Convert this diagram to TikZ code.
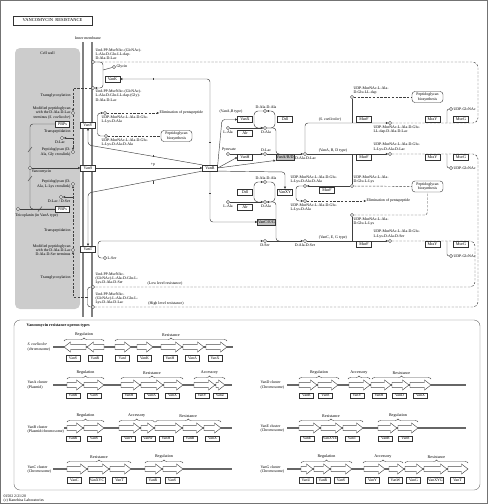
\documentclass[tikz,border=0pt]{standalone}
\usepackage{fontspec}
\setmainfont{Liberation Serif}
\usetikzlibrary{arrows.meta,decorations.pathreplacing}
\pgfdeclarelayer{bgA}
\pgfdeclarelayer{bgB}
\pgfsetlayers{bgA,bgB,main}
\newcommand\kfs{\fontsize{3.9}{4.2}\selectfont}
\newcommand\kfe{\fontsize{4.1}{4.4}\selectfont}
\definecolor{cellgray}{RGB}{204,204,204}
\definecolor{enzgray}{RGB}{196,196,196}
\newcommand\garR[3]{\draw[garrow] (#1,#3-2.6) -- (#2-6.5,#3-2.6) -- (#2-6.5,#3-5) -- (#2,#3) -- (#2-6.5,#3+5) -- (#2-6.5,#3+2.6) -- (#1,#3+2.6) -- cycle;}
\newcommand\garL[3]{\draw[garrow] (#2,#3-2.6) -- (#1+6.5,#3-2.6) -- (#1+6.5,#3-5) -- (#1,#3) -- (#1+6.5,#3+5) -- (#1+6.5,#3+2.6) -- (#2,#3+2.6) -- cycle;}
\newcommand\glab[3]{\node[glab] (g-#3-#1-#2) at (#1,#2) {#3};}
\newcommand\gbrace[4]{\draw[brc] (#1,#3) -- (#2,#3); \node[brl] (b-#4-#1-#3) at ({(#1+#2)/2},#3-3.8) {#4};}
\newcommand\tickv[2]{\draw[rxn] (#1,#2-1.2) -- (#1,#2+1.2);}
\newcommand\tickh[2]{\draw[rxn] (#1-1.2,#2) -- (#1+1.2,#2);}
\begin{document}
\begin{tikzpicture}[x=1pt,y=-1pt,line width=0.4pt,
  cpd/.style={circle,draw=black!80,fill=white,inner sep=0pt,minimum size=3.3pt,line width=0.45pt},
  enz/.style={draw=black!80,fill=white,inner sep=0.5pt,minimum width=15pt,minimum height=5.8pt,font=\kfe},
  enzg/.style={enz,fill=enzgray,minimum width=16pt},
  lbl/.style={font=\kfs,inner sep=0.3pt,align=left},
  lblr/.style={font=\kfs,inner sep=0.3pt,align=right},
  rxn/.style={draw=black!75,line width=0.45pt},
  arr/.style={rxn,-{Triangle[length=2.2pt,width=2.2pt]}},
  dsh/.style={rxn,dash pattern=on 2.4pt off 1.4pt},
  dsharr/.style={dsh,-{Triangle[length=2.2pt,width=2.2pt]}},
  memb/.style={draw=black!50,line width=1.2pt},
  pgbox/.style={draw=black!80,fill=white,rounded corners=3pt,font=\kfs,align=center,minimum width=31pt,minimum height=11pt,inner sep=0.5pt},
  garrow/.style={draw=black!70,fill=white,line width=0.45pt},
  gline/.style={draw=black!60,line width=1.1pt},
  glab/.style={draw=black!80,fill=white,font=\kfs,inner sep=0.6pt,minimum width=14pt,minimum height=5.6pt},
  brc/.style={draw=black!70,line width=0.4pt,decorate,decoration={brace,amplitude=3pt}},
  brl/.style={font=\kfe,inner sep=0.5pt,anchor=south}]
\useasboundingbox (0,0) rectangle (488,504);
\draw[black!55] (0.5,0.5) rectangle (487.5,503.5);

% ---------- background: cell wall, membrane
\begin{pgfonlayer}{bgA}
\fill[cellgray,rounded corners=5pt] (15,48) rectangle (80,309);
\draw[memb] (83,42) -- (83,317);
\draw[memb] (92,42) -- (92,317);
\end{pgfonlayer}

\node[draw=black!80,fill=white,minimum width=79pt,minimum height=9pt,inner sep=0pt,font=\fontsize{4.5}{5}\selectfont] (title) at (52.5,20.5) {VANCOMYCIN\ \ RESISTANCE};
\node[lbl] (cellwall) at (47.5,53) {Cell wall};
\node[lbl] (innermem) at (88,38) {Inner membrane};

% ---------- top lipids
\node[cpd] (lipLac) at (93,62) {};
\node[lbl,anchor=south west] (lipLacL) at (95,60.5) {Und-PP-MurNAc-(GlcNAc)-\\L-Ala-D-Glu-LL-dap-\\D-Ala-D-Lac};
\node[cpd] (lipGly) at (93,88) {};
\node[lbl,anchor=north west] (lipGlyL) at (95,89.5) {Und-PP-MurNAc-(GlcNAc)-\\L-Ala-D-Glu-LL-dap-(Gly)-\\D-Ala-D-Lac};
\node[cpd] (gly) at (114,67) {};
\node[lbl,anchor=west] (glyL) at (116,67) {Glycin};
\node[enz] (VanK) at (112.5,79) {VanK};

% ---------- left side (cell wall)
\node[cpd] (modLac) at (73,113) {};
\node[lblr,anchor=east] (modLacL) at (71,113) {Modified peptidoglycan\\with the D-Ala-D-Lac\\terminus (\textit{S. coelicolor})};
\node[lblr,anchor=east] (tg1) at (71,96) {Transglycosylation};
\node[enz,minimum width=14pt] (PBPs1) at (62.5,124) {PBPs};
\node[lblr,anchor=east] (tp1) at (71,132) {Transpeptidation};
\node[cpd] (dlac1) at (62,138) {};
\node[lbl,anchor=north] (dlac1L) at (60,140) {D-Lac};
\node[cpd] (pgGly) at (73,152) {};
\node[lblr,anchor=east] (pgGlyL) at (71,152) {Peptidoglycan (D-\\Ala, Gly crosslink)};
\node[cpd] (vanc) at (30,168) {};
\node[lbl,anchor=north west] (vancL) at (31,169.5) {Vancomycin};
\node[cpd] (pgLys) at (73,184) {};
\node[lblr,anchor=east] (pgLysL) at (71,184) {Peptidoglycan (D-\\Ala, L-Lys crosslink)};
\node[cpd] (dlser) at (61,197) {};
\node[lbl,anchor=north] (dlserL) at (59,199) {D-Lac / D-Ser};
\node[enz,minimum width=14pt] (PBPs2) at (62.5,209) {PBPs};
\node[cpd] (teic) at (18,209) {};
\node[lbl,anchor=north west] (teicL) at (15,213) {Teicoplanin (in VanA type)};
\node[lblr,anchor=east] (tp2) at (71,231) {Transpeptidation};
\node[cpd] (modSer) at (73,250) {};
\node[lblr,anchor=east] (modSerL) at (71,250) {Modified peptidoglycan\\with the D-Ala-D-Lac\\D-Ala-D-Ser terminus};
\node[lblr,anchor=east] (tg2) at (71,278) {Transglycosylation};

% ---------- membrane proteins
\node[enz] (VanY) at (88,125) {VanY};
\node[enz] (VanS) at (88,168) {VanS};
\node[enz] (VanT) at (88,249) {VanT};

% ---------- VanY reaction
\node[cpd] (tetra1) at (105,113) {};
\node[lbl,anchor=north west] (tetra1L) at (101,115.5) {UDP-MurNAc-L-Ala-D-Glu-\\L-Lys-D-Ala};
\node[lbl,anchor=west] (elim1) at (159,113) {Elimination of pentapeptide};
\node[cpd] (penta1) at (106,136) {};
\node[lbl,anchor=north west] (penta1L) at (101,138.5) {UDP-MurNAc-L-Ala-D-Glu-\\L-Lys-D-Ala-D-Ala};
\node[pgbox] (pg1) at (176.5,136) {Peptidoglycan\\biosynthesis};

% ---------- regulator
\node[enz] (VanR) at (210,168) {VanR};
\node[lbl] (pp) at (153,165) {+p};

% ---------- loop 1
\node[lbl] (vanABtype) at (231,112) {(VanA,B type)};
\node[cpd] (dada1) at (265,111) {};
\node[lbl,anchor=south] (dada1L) at (266,109) {D-Ala-D-Ala};
\node[cpd] (dala1) at (265,128) {};
\node[lbl,anchor=north] (dala1L) at (266,130) {D-Ala};
\node[enz] (VanX) at (245,119.5) {VanX};
\node[enz] (Ddl1) at (285,119.5) {Ddl};
\node[cpd] (lala1) at (228,128) {};
\node[lbl,anchor=north] (lala1L) at (228,130) {L-Ala};
\node[enz] (Alr1) at (245,133.5) {Alr};

% ---------- D-Lac line
\node[cpd] (pyr) at (228,154) {};
\node[lbl,anchor=south] (pyrL) at (229,152) {Pyruvate};
\node[enz] (VanH) at (245,157.3) {VanH};
\node[cpd] (dlac2) at (265,154) {};
\node[lbl,anchor=south] (dlac2L) at (266,152) {D-Lac};
\node[enzg] (VanABD) at (285,157.3) {VanA/B/D};
\node[cpd] (dadlac) at (305,154) {};
\node[lbl,anchor=west] (dadlacL) at (294.5,158.5) {D-Ala-D-Lac};

% ---------- path 1 (S. coelicolor)
\node[cpd] (trip1) at (352,97) {};
\node[lbl,anchor=south west] (trip1L) at (353,95) {UDP-MurNAc-L-Ala-\\D-Glu-LL-dap};
\node[pgbox] (pg2) at (427.5,97) {Peptidoglycan\\biosynthesis};
\node[lbl] (scoel) at (330,120) {(\textit{S. coelicolor})};
\node[enz] (MurF1) at (364,119.5) {MurF};
\node[cpd] (udp1) at (390,123) {};
\node[lbl,anchor=north west] (udp1L) at (373,125.5) {UDP-MurNAc-L-Ala-D-Glu-\\LL-dap-D-Ala-D-Lac};
\node[enz] (MraY1) at (432.5,119.5) {MraY};
\node[enz] (MurG1) at (461,119.5) {MurG};
\node[cpd] (glc1) at (451,109) {};
\node[lbl,anchor=west] (glc1L) at (453,109) {UDP-GlcNAc};

% ---------- path 2 (VanA,B,D)
\node[lbl,anchor=south] (vABDtype) at (333,153) {(VanA, B, D type)};
\node[enz] (MurF2) at (364,157.3) {MurF};
\node[cpd] (udp2) at (390,154) {};
\node[lbl,anchor=south west] (udp2L) at (373,151.5) {UDP-MurNAc-L-Ala-D-Glu-\\L-Lys-D-Ala-D-Lac};
\node[enz] (MraY2) at (432.5,157.3) {MraY};
\node[enz] (MurG2) at (461,157.3) {MurG};
\node[cpd] (glc2) at (451,168) {};
\node[lbl,anchor=west] (glc2L) at (453,168) {UDP-GlcNAc};

% ---------- VanC-type upper
\node[cpd] (trip2) at (352,186) {};
\node[lbl,anchor=south west] (trip2L) at (353,184) {UDP-MurNAc-L-Ala-\\D-Glu-L-Lys};
\node[pgbox] (pg3) at (427.5,186.5) {Peptidoglycan\\biosynthesis};
\node[cpd] (penta2) at (305,186) {};
\node[lbl,anchor=south west] (penta2L) at (290,184) {UDP-MurNAc-L-Ala-D-Glu-\\L-Lys-D-Ala-D-Ala};
\node[enz] (MurF3u) at (327,190.5) {MurF};
\node[cpd] (tetra2) at (305,201) {};
\node[lbl,anchor=north west] (tetra2L) at (290,203) {UDP-MurNAc-L-Ala-D-Glu-\\L-Lys-D-Ala};
\node[lbl,anchor=west] (elim2) at (366,201) {Elimination of pentapeptide};

% ---------- loop 2
\node[cpd] (dada2) at (265,182) {};
\node[lbl,anchor=south] (dada2L) at (266,180) {D-Ala-D-Ala};
\node[cpd] (dala2) at (265,202) {};
\node[lbl,anchor=north] (dala2L) at (266,204) {D-Ala};
\node[enz] (Ddl2) at (245,192) {Ddl};
\node[enz] (VanXY) at (285,192) {VanXY};
\node[cpd] (lala2) at (228,202) {};
\node[lbl,anchor=north] (lala2L) at (228,204) {L-Ala};
\node[enz] (Alr2) at (245,207.5) {Alr};
\node[enzg] (VanCEG) at (266.5,222) {VanC/E/G};
\node[cpd] (dser) at (265,241) {};
\node[lbl,anchor=north] (dserL) at (265,243) {D-Ser};
\node[cpd] (dadser) at (305,241) {};
\node[lbl,anchor=north] (dadserL) at (305,243) {D-Ala-D-Ser};
\node[lbl,anchor=south] (vCEGtype) at (333,239.5) {(VanC, E, G type)};
\node[cpd] (lser) at (105,258) {};
\node[lbl,anchor=west] (lserL) at (107,258) {L-Ser};

% ---------- path 3
\node[enz] (MurF3) at (364,244.3) {MurF};
\node[cpd] (udp3) at (390,241) {};
\node[lbl,anchor=south west] (udp3L) at (373,238.5) {UDP-MurNAc-L-Ala-D-Glu-\\L-Lys-D-Ala-D-Ser};
\node[enz] (MraY3) at (432.5,244.3) {MraY};
\node[enz] (MurG3) at (461,244.3) {MurG};
\node[cpd] (glc3) at (451,256) {};
\node[lbl,anchor=west] (glc3L) at (453,256) {UDP-GlcNAc};
\node[cpd] (trip3) at (352,215) {};
\node[lbl,anchor=north west] (trip3L) at (353,217) {UDP-MurNAc-L-Ala-\\D-Glu-L-Lys};

% ---------- bottom lipids
\node[cpd] (lipSer) at (93,287) {};
\node[lbl,anchor=south west] (lipSerL) at (95,285) {Und-PP-MurNAc-\\(GlcNAc)-L-Ala-D-Glu-L-\\Lys-D-Ala-D-Ser};
\node[lbl,anchor=south] (lowres) at (165,286) {(Low level resistance)};
\node[cpd] (lipLac2) at (93,307) {};
\node[lbl,anchor=south west] (lipLac2L) at (95,305) {Und-PP-MurNAc-\\(GlcNAc)-L-Ala-D-Glu-L-\\Lys-D-Ala-D-Lac};
\node[lbl,anchor=south] (highres) at (166,306) {(High level resistance)};

% ---------- connectors
\begin{pgfonlayer}{bgB}
\draw[arr,rounded corners=3pt] (lipLac) -- (103,62) -- (103,88) -- (lipGly);
\draw[rxn] (103,70) -- (gly);
\draw[dsharr] (lipGly) -- (73,88) -- (modLac);
\draw[dsharr] (modLac) -- (pgGly);
\draw[arr] (73,138) -- (dlac1);
\draw[rxn,rounded corners=3pt] (PBPs1.west) -- (30,124) -- (30,209) -- (PBPs2.west);
\draw[rxn] (teic) -- (PBPs2);
\draw[rxn] (28,152) -- (32,147);
\draw[rxn] (28,181) -- (32,176);
\draw[rxn] (38,211.5) -- (42,206.5);
\draw[arr] (vanc) -- (VanS);
\draw[dsharr] (modSer) -- (pgLys);
\draw[arr] (73,197) -- (dlser);
\draw[rxn,rounded corners=3pt] (lipSer) -- (87.5,287) -- (87.5,307) -- (lipLac2);
\draw[dsharr] (87.5,297) -- (73,297) -- (modSer);
% VanY
\draw[arr,rounded corners=3pt] (penta1) -- (97.5,136) -- (97.5,113) -- (tetra1);
\draw[dsharr] (tetra1) -- (elim1);
\draw[dsh] (penta1) -- (pg1);
% VanR
\draw[arr] (VanS) -- (VanR);
\draw[arr,rounded corners=3pt] (VanR.north) -- (210,79) -- (VanK);
\draw[arr,rounded corners=3pt] (VanR.north west) -- (88,145) -- (VanY);
\draw[arr,rounded corners=3pt] (VanR.south west) -- (88,193) -- (VanT);
\draw[arr,rounded corners=3pt] (VanR.north east) -- (222,119.5) -- (VanX);
\draw[arr] (VanR.east) -- (VanH.west);
\draw[arr] (VanR.east) -- (VanABD.south west);
\draw[arr,rounded corners=3pt] (VanR.south east) -- (285,172) -- (VanXY);
\draw[arr,rounded corners=3pt] (VanR.south) -- (210,222) -- (VanCEG);
\tickv{153}{79} \tickv{153}{156} \tickv{153}{182.5} \tickh{210}{142} \tickh{210}{193}
% loop 1
\draw[arr,rounded corners=4pt] (dada1) -- (254,111) -- (254,128) -- (dala1);
\draw[arr,rounded corners=4pt] (dala1) -- (275,128) -- (275,111) -- (dada1);
\draw[arr] (lala1) -- (dala1);
\draw[rxn,rounded corners=3pt] (dala1) -- (276,128) -- (276,154) -- (280,154);
\draw[arr] (pyr) -- (dlac2);
\draw[arr] (dlac2) -- (dadlac);
% path 1
\draw[arr,rounded corners=3pt] (dadlac) -- (305,123) -- (udp1);
\draw[rxn] (trip1) -- (352,123);
\draw[dsh] (trip1) -- (pg2);
\draw[dsh,rounded corners=5pt] (udp1) -- (478,123) -- (478,62) -- (lipLac);
\draw[rxn,rounded corners=2pt] (glc1) -- (447,109) -- (447,123);
% path 2
\draw[arr] (dadlac) -- (udp2);
\draw[dsh,rounded corners=5pt] (udp2) -- (478,154) -- (478,307) -- (lipLac2);
\draw[rxn,rounded corners=2pt] (glc2) -- (447,168) -- (447,154);
% VanC upper
\draw[arr] (trip2) -- (penta2);
\draw[rxn] (trip2) -- (352,154);
\draw[dsh] (trip2) -- (pg3);
\draw[arr,rounded corners=3pt] (penta2) -- (296,186) -- (296,201) -- (tetra2);
\draw[dsharr] (tetra2) -- (elim2);
% loop 2
\draw[arr,rounded corners=4pt] (dala2) -- (254,202) -- (254,182) -- (dada2);
\draw[arr,rounded corners=4pt] (dada2) -- (275,182) -- (275,202) -- (dala2);
\draw[arr] (lala2) -- (dala2);
\draw[rxn,rounded corners=3pt] (dala2) -- (276,202) -- (276,241) -- (280,241);
\draw[arr] (dser) -- (dadser);
\draw[arr,rounded corners=3pt] (lser) -- (98,258) -- (98,241) -- (dser);
% path 3
\draw[arr] (dadser) -- (udp3);
\draw[rxn] (trip3) -- (352,241);
\draw[dsh,rounded corners=3pt] (trip3) -- (427.5,215) -- (pg3);
\draw[dsh,rounded corners=5pt] (udp3) -- (475,241) -- (475,287) -- (lipSer);
\draw[rxn,rounded corners=2pt] (glc3) -- (447,256) -- (447,241);
\end{pgfonlayer}

% ---------- operon types box
\draw[black!60,rounded corners=6pt] (14,320) rectangle (480,490);
\node[font=\bfseries\kfe,anchor=west,inner sep=0.5pt] (optitle) at (26,325.5) {Vancomycin resistance operon types};
\node[lbl,anchor=west] (f1) at (3,496) {01502 2/21/20};
\node[lbl,anchor=west] (f2) at (3,500.5) {(c) Kanehisa Laboratories};

% row S. coelicolor
\node[lbl,anchor=west] (rS) at (27,347) {\textit{S. coelicolor}\\(chromosome)};
\draw[gline] (53,347) -- (233,347);
\garL{64}{86}{347} \garL{87}{104}{347}
\garR{115}{131}{347} \garR{137}{153}{347} \garR{161}{182}{347} \garR{183}{204}{347} \garR{206}{227}{347}
\glab{73}{358}{VanS} \glab{95}{358}{VanR} \glab{122.5}{358}{VanJ} \glab{144.5}{358}{VanK} \glab{170}{358}{VanH} \glab{192.5}{358}{VanA} \glab{215}{358}{VanX}
\gbrace{64}{104}{341}{Regulation} \gbrace{115}{227}{341}{Resistance}

% row VanA
\node[lbl,anchor=west] (rA) at (27,385) {VanA cluster\\(Plasmid)};
\draw[gline] (53,385) -- (232,385);
\garR{67}{83}{385} \garR{84}{104}{385} \garR{121}{140}{385} \garR{141}{163}{385} \garR{164}{183}{385} \garR{194}{215}{385} \garR{216}{225}{385}
\glab{73}{395.5}{VanR} \glab{94}{395.5}{VanS} \glab{129}{395.5}{VanH} \glab{151.5}{395.5}{VanA} \glab{172.5}{395.5}{VanX} \glab{202}{395.5}{VanY} \glab{220}{395.5}{VanZ}
\gbrace{67}{104}{379}{Regulation} \gbrace{121}{183}{379}{Resistance} \gbrace{194}{225}{379}{Accessory}

% row VanB
\node[lbl,anchor=west] (rB) at (27,429.5) {VanB cluster\\(Plasmid/chromosome)};
\draw[gline] (64,428) -- (232,428);
\garR{67}{83}{428} \garR{84}{104}{428} \garR{119}{140}{428} \garR{141}{154}{428} \garR{155}{182}{428} \garR{183}{203}{428} \garR{204}{221}{428}
\glab{73}{438.5}{VanR} \glab{94}{438.5}{VanS} \glab{128.5}{438.5}{VanY} \glab{148}{438.5}{VanW} \glab{166}{438.5}{VanH} \glab{190}{438.5}{VanB} \glab{212.5}{438.5}{VanX}
\gbrace{67}{104}{422}{Regulation} \gbrace{119}{154.5}{422}{Accessory} \gbrace{155.5}{221}{422}{Resistance}

% row VanC
\node[lbl,anchor=west] (rC) at (27,469.5) {VanC cluster\\(Chromosome)};
\draw[gline] (53,469) -- (232,469);
\garR{67}{87}{469} \garR{88}{109}{469} \garR{110}{131}{469} \garR{145}{162}{469} \garR{163}{183}{469}
\glab{74.5}{480}{VanC} \glab{97}{480}{VanXYC} \glab{119.5}{480}{VanT} \glab{153}{480}{VanR} \glab{172}{480}{VanS}
\gbrace{67}{131}{463}{Resistance} \gbrace{145}{183}{463}{Regulation}

% row VanD
\node[lbl,anchor=west] (rD) at (260,385) {VanD cluster\\(Chromosome)};
\draw[gline] (287,385) -- (466,385);
\garR{299}{317}{385} \garR{318}{338}{385} \garR{349}{370}{385} \garR{371}{391}{385} \garR{392}{409}{385} \garR{410}{431}{385}
\glab{306.5}{395.5}{VanR} \glab{325.5}{395.5}{VanS} \glab{357}{395.5}{VanY} \glab{379}{395.5}{VanH} \glab{399.5}{395.5}{VanD} \glab{420.5}{395.5}{VanX}
\gbrace{299}{339}{379}{Regulation} \gbrace{348}{370}{379}{Accessory} \gbrace{372}{431}{379}{Resistance}

% row VanE
\node[lbl,anchor=west] (rE) at (260,428.5) {VanE cluster\\(Chromosome)};
\draw[gline] (287,428) -- (466,428);
\garR{299}{320}{428} \garR{321}{342}{428} \garR{343}{363}{428} \garR{378}{397}{428} \garR{398}{418}{428}
\glab{307}{438.5}{VanE} \glab{330}{438.5}{VanXYE} \glab{352}{438.5}{VanT} \glab{385.5}{438.5}{VanR} \glab{405.5}{438.5}{VanS}
\gbrace{299}{363}{422}{Resistance} \gbrace{378}{418}{422}{Regulation}

% row VanG
\node[lbl,anchor=west] (rG) at (260,469.5) {VanG cluster\\(Chromosome)};
\draw[gline] (287,469) -- (468,469);
\garR{301}{313}{469} \garR{314}{330}{469} \garR{331}{352}{469} \garR{364}{385}{469} \garR{389}{404}{469} \garR{405}{423}{469} \garR{424}{447}{469} \garR{448}{468}{469}
\glab{306}{480}{VanU} \glab{323}{480}{VanR} \glab{341}{480}{VanS} \glab{372.5}{480}{VanY} \glab{395.5}{480}{VanW} \glab{413.5}{480}{VanG} \glab{435.5}{480}{VanXYG} \glab{457.5}{480}{VanT}
\gbrace{301}{352}{463}{Regulation} \gbrace{363}{403}{463}{Accessory} \gbrace{405}{468}{463}{Resistance}
\end{tikzpicture}
\end{document}
